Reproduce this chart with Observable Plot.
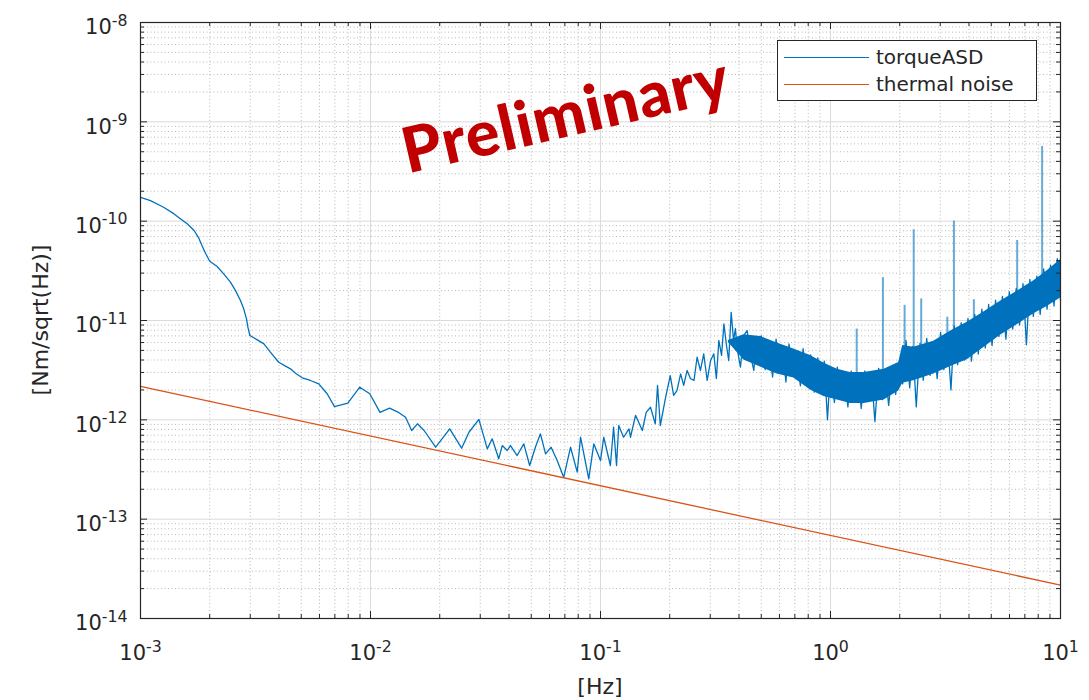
<!DOCTYPE html>
<html>
<head>
<meta charset="utf-8">
<script src="https://cdn.jsdelivr.net/npm/d3@7"></script>
<script src="https://cdn.jsdelivr.net/npm/@observablehq/plot@0.6"></script>
<style>
  body { margin: 0; background: #fff; }
  #wrap { position: relative; width: 1089px; height: 700px; overflow: hidden; }
  #legend { position: absolute; left: 777px; top: 40px; width: 258px; height: 59px;
            border: 1px solid #262626; background: #fff; font-family: "DejaVu Sans", sans-serif;
            font-size: 20px; color: #262626; }
  #legend .sw { position: absolute; left: 6px; width: 85px; height: 0; }
  #legend .lb { position: absolute; left: 98px; line-height: 1; transform: translateY(-50%); white-space: nowrap; }
  #stamp { position: absolute; left: 565px; top: 112px; transform: translate(-50%, -50%) rotate(-13deg);
           color: #C00000; font-family: "Lato", "Open Sans", sans-serif; font-weight: 900;
           font-size: 63px; letter-spacing: 1px; white-space: nowrap; line-height: 1; }
</style>
</head>
<body>
<div id="wrap"></div>
<script>
// ---------------- data ----------------
const seriesNames = ["torqueASD", "thermal noise"];
const seriesColors = ["#0072BD", "#D95319"];

// torqueASD trace (Hz, Nm/sqrt(Hz))
const asdFreq = [
  1e-3, 1.105e-3, 1.26e-3, 1.395e-3, 1.49e-3, 1.596e-3, 1.71e-3, 1.79e-3, 1.85e-3, 1.917e-3,
  2.0e-3, 2.154e-3, 2.3e-3, 2.46e-3, 2.59e-3, 2.72e-3, 2.81e-3, 2.89e-3, 2.93e-3, 2.99e-3,
  3.22e-3, 3.44e-3, 3.67e-3, 3.99e-3, 4.27e-3, 4.49e-3, 4.72e-3, 5.05e-3, 5.48e-3, 5.96e-3,
  6.48e-3, 6.97e-3, 7.97e-3, 8.98e-3, 9.93e-3, 1.10e-2,
  1.21e-2, 1.33e-2, 1.42e-2, 1.51e-2, 1.60e-2, 1.71e-2, 1.92e-2, 2.21e-2, 2.49e-2, 2.68e-2,
  2.96e-2, 3.22e-2, 3.38e-2, 3.61e-2, 3.74e-2, 3.93e-2, 4.06e-2, 4.34e-2, 4.64e-2, 4.92e-2,
  5.21e-2, 5.48e-2, 5.77e-2, 6.10e-2, 6.48e-2, 6.92e-2, 7.41e-2, 7.92e-2, 8.19e-2, 8.89e-2,
  9.35e-2, 0.100, 0.1033, 0.1104, 0.114, 0.1174, 0.120, 0.126, 0.133,
  0.135, 0.142, 0.152, 0.158, 0.165, 0.173, 0.177, 0.182, 0.192, 0.201,
  0.208, 0.215, 0.223, 0.230, 0.238, 0.246, 0.255, 0.263, 0.272, 0.281,
  0.291, 0.301, 0.311, 0.319, 0.327, 0.336, 0.344, 0.353, 0.361, 0.370,
  0.379, 0.386, 0.394, 0.406, 0.419, 0.434, 0.449, 0.464, 0.476,
  0.50, 0.52, 0.54, 0.56, 0.58, 0.60, 0.62, 0.64, 0.66, 0.69,
  0.71, 0.74, 0.76, 0.79, 0.82, 0.85, 0.88, 0.91, 0.94, 0.97,
  1.00, 1.04, 1.07, 1.11, 1.15, 1.19, 1.23, 1.27, 1.32, 1.36,
  1.41, 1.46, 1.51, 1.56, 1.62, 1.68, 1.73, 1.79, 1.86, 1.92,
  1.99, 2.06, 2.13, 2.21, 2.28, 2.36, 2.45, 2.53, 2.62, 2.71,
  2.81, 2.91, 3.01, 3.11, 3.22, 3.34, 3.45, 3.57, 3.70, 3.83,
  3.96, 4.10, 4.24, 4.39, 4.55, 4.71, 4.87, 5.04, 5.22, 5.40,
  5.59, 5.79, 5.99, 6.20, 6.42, 6.64, 6.87, 7.11, 7.36, 7.62,
  7.89, 8.16, 8.45, 8.74, 9.05, 9.37, 9.69, 10.0
];
const asdValue = [
  1.74e-10, 1.61e-10, 1.38e-10, 1.19e-10, 1.06e-10, 9.4e-11, 8.05e-11, 6.8e-11, 5.69e-11, 4.76e-11,
  3.95e-11, 3.5e-11, 2.95e-11, 2.43e-11, 2.0e-11, 1.59e-11, 1.31e-11, 1.04e-11, 8.57e-12, 7.06e-12,
  6.38e-12, 5.82e-12, 4.8e-12, 3.8e-12, 3.47e-12, 3.26e-12, 2.95e-12, 2.65e-12, 2.49e-12, 2.3e-12,
  1.83e-12, 1.36e-12, 1.47e-12, 2.13e-12, 1.83e-12, 1.19e-12,
  1.31e-12, 1.18e-12, 1.06e-12, 7.81e-13, 9.12e-13, 7.81e-13, 5.3e-13, 8.12e-13, 5.18e-13, 7.5e-13,
  1.01e-12, 5.1e-13, 6.44e-13, 4.05e-13, 5.51e-13, 4.91e-13, 5.51e-13, 4.37e-13, 5.73e-13, 3.47e-13,
  5.3e-13, 7.23e-13, 4.55e-13, 5.3e-13, 3.89e-13, 2.64e-13, 5.3e-13, 2.97e-13, 6.68e-13, 2.55e-13,
  5.73e-13, 3.89e-13, 6.68e-13, 3.47e-13, 8.43e-13, 3.47e-13, 8.77e-13, 6.68e-13, 8.12e-13,
  6.68e-13, 1.11e-12, 7.81e-13, 1.19e-12, 1.34e-12, 9.12e-13, 2.22e-12, 8.77e-13, 1.69e-12, 2.79e-12,
  1.76e-12, 1.97e-12, 2.9e-12, 2.22e-12, 3.14e-12, 2.61e-12, 2.49e-12, 4.27e-12, 3.14e-12, 4.62e-12,
  2.49e-12, 3.95e-12, 4.62e-12, 2.61e-12, 6.29e-12, 4.45e-12, 9.25e-12, 5.6e-12, 3.95e-12, 1.21e-11,
  6.29e-12, 8.3e-12, 4.99e-12, 3.39e-12, 7.06e-12, 7.93e-12, 4.45e-12, 3.14e-12, 6.29e-12,
  7.0e-12, 3.2e-12, 5.5e-12, 2.7e-12, 6.5e-12, 3.3e-12, 5.2e-12, 2.4e-12, 5.8e-12, 2.9e-12,
  4.8e-12, 2.2e-12, 5.2e-12, 2.6e-12, 4.5e-12, 1.9e-12, 4.2e-12, 2.3e-12, 3.9e-12, 1.0e-12,
  3.3e-12, 1.5e-12, 3.4e-12, 1.7e-12, 2.9e-12, 1.35e-12, 3.1e-12, 1.6e-12, 2.8e-12, 1.3e-12,
  3.1e-12, 1.55e-12, 2.7e-12, 9.6e-13, 3.3e-12, 1.6e-12, 3.0e-12, 1.4e-12, 3.5e-12, 1.8e-12,
  3.9e-12, 2.3e-12, 6.3e-12, 2.1e-12, 5.5e-12, 1.35e-12, 5.9e-12, 2.5e-12, 6.6e-12, 2.8e-12,
  6.0e-12, 2.6e-12, 7.6e-12, 3.2e-12, 7.0e-12, 2.0e-12, 8.8e-12, 3.6e-12, 9.5e-12, 4.0e-12,
  1.05e-11, 3.9e-12, 1.15e-11, 4.6e-12, 1.3e-11, 5.3e-12, 1.45e-11, 5.6e-12, 1.6e-11, 6.9e-12,
  1.75e-11, 6.5e-12, 1.95e-11, 8.2e-12, 2.1e-11, 9.0e-12, 2.35e-11, 5.7e-12, 2.6e-11, 1.1e-11,
  2.8e-11, 1.15e-11, 3.3e-11, 1.3e-11, 3.6e-11, 1.4e-11, 4.2e-11, 1.6e-11
];

// dense noise band of torqueASD above ~0.36 Hz (lower / upper edge)
const bandFreq = [0.36, 0.42, 0.496, 0.586, 0.692, 0.818, 0.935, 1.07, 1.22, 1.40, 1.71, 1.98, 2.06, 2.30, 2.81, 3.33, 3.93, 4.64, 5.48, 6.48, 7.66, 8.75, 10];
const bandLow  = [6.0e-12, 4.0e-12, 3.4e-12, 2.9e-12, 2.64e-12, 2.0e-12, 1.72e-12, 1.58e-12, 1.46e-12, 1.46e-12, 1.58e-12, 1.95e-12, 2.34e-12, 2.48e-12, 2.9e-12, 3.45e-12, 4.03e-12, 5.35e-12, 7.09e-12, 9.04e-12, 1.17e-11, 1.38e-11, 1.68e-11];
const bandHigh = [6.29e-12, 7.2e-12, 6.9e-12, 5.95e-12, 5.18e-12, 4.43e-12, 3.73e-12, 3.23e-12, 3.0e-12, 3.0e-12, 3.23e-12, 3.77e-12, 5.6e-12, 5.39e-12, 6.17e-12, 7.84e-12, 9.58e-12, 1.22e-11, 1.56e-11, 1.97e-11, 2.51e-11, 3.16e-11, 4.08e-11];

// narrow spectral lines of torqueASD
const spikeFreq = [1.30, 1.69, 2.10, 2.30, 2.48, 3.22, 3.44, 4.20, 6.48, 8.32];
const spikeBase = [2.5e-12, 2.5e-12, 3.5e-12, 3.5e-12, 3.5e-12, 4e-12, 4.5e-12, 6e-12, 1.2e-11, 2e-11];
const spikePeak = [8.2e-12, 2.7e-11, 1.42e-11, 8.2e-11, 1.65e-11, 1.08e-11, 1.0e-10, 1.62e-11, 6.4e-11, 5.65e-10];

// thermal noise (straight line on log-log axes)
const thermalFreq = [1e-3, 10];
const thermalValue = [2.17e-12, 2.17e-14];

// axes
const majorX = [1e-3, 1e-2, 1e-1, 1, 10];
const majorY = [1e-14, 1e-13, 1e-12, 1e-11, 1e-10, 1e-9, 1e-8];
const xLabel = "[Hz]";
const yLabel = "[Nm/sqrt(Hz)]";
const stampText = "Preliminary";

// ---------------- tables ----------------
const asd = asdFreq.map((f, i) => ({f, v: asdValue[i]}));
const band = bandFreq.map((f, i) => ({f, lo: bandLow[i], hi: bandHigh[i]}));
const spikes = spikeFreq.map((f, i) => ({f, base: spikeBase[i], peak: spikePeak[i]}));
const thermal = thermalFreq.map((f, i) => ({f, v: thermalValue[i]}));
const minorOf = m => m.slice(0, -1).flatMap(d => [2, 3, 4, 5, 6, 7, 8, 9].map(k => k * d));
const minorX = minorOf(majorX), minorY = minorOf(majorY);

// ---------------- layout ----------------
const W = 1089, H = 700, mL = 140, mR = 29, mT = 22, mB = 82;
const fw = W - mL - mR, fh = H - mT - mB;
const axisColor = "#262626";
const fmt = d => "10^" + Math.round(Math.log10(d));
const blue = seriesColors[0], orange = seriesColors[1];

const chart = Plot.plot({
  width: W, height: H,
  marginLeft: mL, marginRight: mR, marginTop: mT, marginBottom: mB,
  style: {fontFamily: "DejaVu Sans, sans-serif", background: "#fff", color: axisColor},
  x: {type: "log", domain: [1e-3, 10], label: null},
  y: {type: "log", domain: [1e-14, 1e-8], label: null},
  marks: [
    Plot.gridX(minorX, {stroke: "#b9b9b9", strokeOpacity: 1, strokeDasharray: "1,2.5"}),
    Plot.gridY(minorY, {stroke: "#b9b9b9", strokeOpacity: 1, strokeDasharray: "1,2.5"}),
    Plot.gridX(majorX, {stroke: "#dadada", strokeOpacity: 1}),
    Plot.gridY(majorY, {stroke: "#dadada", strokeOpacity: 1}),
    Plot.areaY(band, {x: "f", y1: "lo", y2: "hi", fill: blue}),
    Plot.line(asd, {x: "f", y: "v", stroke: blue, strokeWidth: 1.3}),
    Plot.ruleX(spikes, {x: "f", y1: "base", y2: "peak", stroke: blue, strokeWidth: 2, strokeOpacity: 0.6}),
    Plot.line(thermal, {x: "f", y: "v", stroke: orange, strokeWidth: 1.3}),
    Plot.frame({stroke: axisColor, strokeWidth: 1.2}),
    // inward ticks (bottom / top / left / right)
    Plot.tickX(majorX, {insetTop: fh - 7, stroke: axisColor}),
    Plot.tickX(minorX, {insetTop: fh - 4, stroke: axisColor}),
    Plot.tickX(majorX, {insetBottom: fh - 7, stroke: axisColor}),
    Plot.tickX(minorX, {insetBottom: fh - 4, stroke: axisColor}),
    Plot.tickY(majorY, {insetRight: fw - 7, stroke: axisColor}),
    Plot.tickY(minorY, {insetRight: fw - 4, stroke: axisColor}),
    Plot.tickY(majorY, {insetLeft: fw - 7, stroke: axisColor}),
    Plot.tickY(minorY, {insetLeft: fw - 4, stroke: axisColor}),
    // tick labels
    Plot.axisX(majorX, {anchor: "bottom", tickSize: 0, tickPadding: 27, tickFormat: fmt, fontSize: 21, fill: axisColor, label: null}),
    Plot.axisY(majorY, {anchor: "left", tickSize: 0, tickPadding: 13, tickFormat: fmt, fontSize: 21, fill: axisColor, dy: 5, label: null})
  ]
});

// superscript exponents in tick labels
d3.select(chart).selectAll('g[aria-label$="tick label"] text').each(function() {
  const m = /^10\^(-?\d+)$/.exec(this.textContent);
  if (!m) return;
  const t = d3.select(this);
  t.text("10");
  t.append("tspan").attr("dy", "-0.55em").attr("font-size", "0.75em").text(m[1]);
});

// axis titles
const svg = d3.select(chart);
svg.append("text").attr("x", mL + fw / 2).attr("y", 694).attr("text-anchor", "middle")
  .attr("font-size", 22).attr("fill", axisColor).text(xLabel);
svg.append("text").attr("transform", `translate(40,${mT + fh / 2}) rotate(-90)`).attr("dy", "0.35em")
  .attr("text-anchor", "middle").attr("font-size", 22).attr("fill", axisColor).text(yLabel);

const wrap = document.getElementById("wrap");
wrap.appendChild(chart);

// legend
const legend = document.createElement("div");
legend.id = "legend";
const rowY = [15.7, 43.3];
seriesNames.forEach((name, i) => {
  const sw = document.createElement("div");
  sw.className = "sw";
  sw.style.top = rowY[i] + "px";
  sw.style.borderTop = `1.3px solid ${seriesColors[i]}`;
  const lb = document.createElement("div");
  lb.className = "lb";
  lb.style.top = rowY[i] + "px";
  lb.textContent = name;
  legend.appendChild(sw);
  legend.appendChild(lb);
});
wrap.appendChild(legend);

// watermark
const stamp = document.createElement("div");
stamp.id = "stamp";
stamp.textContent = stampText;
wrap.appendChild(stamp);
</script>
</body>
</html>
